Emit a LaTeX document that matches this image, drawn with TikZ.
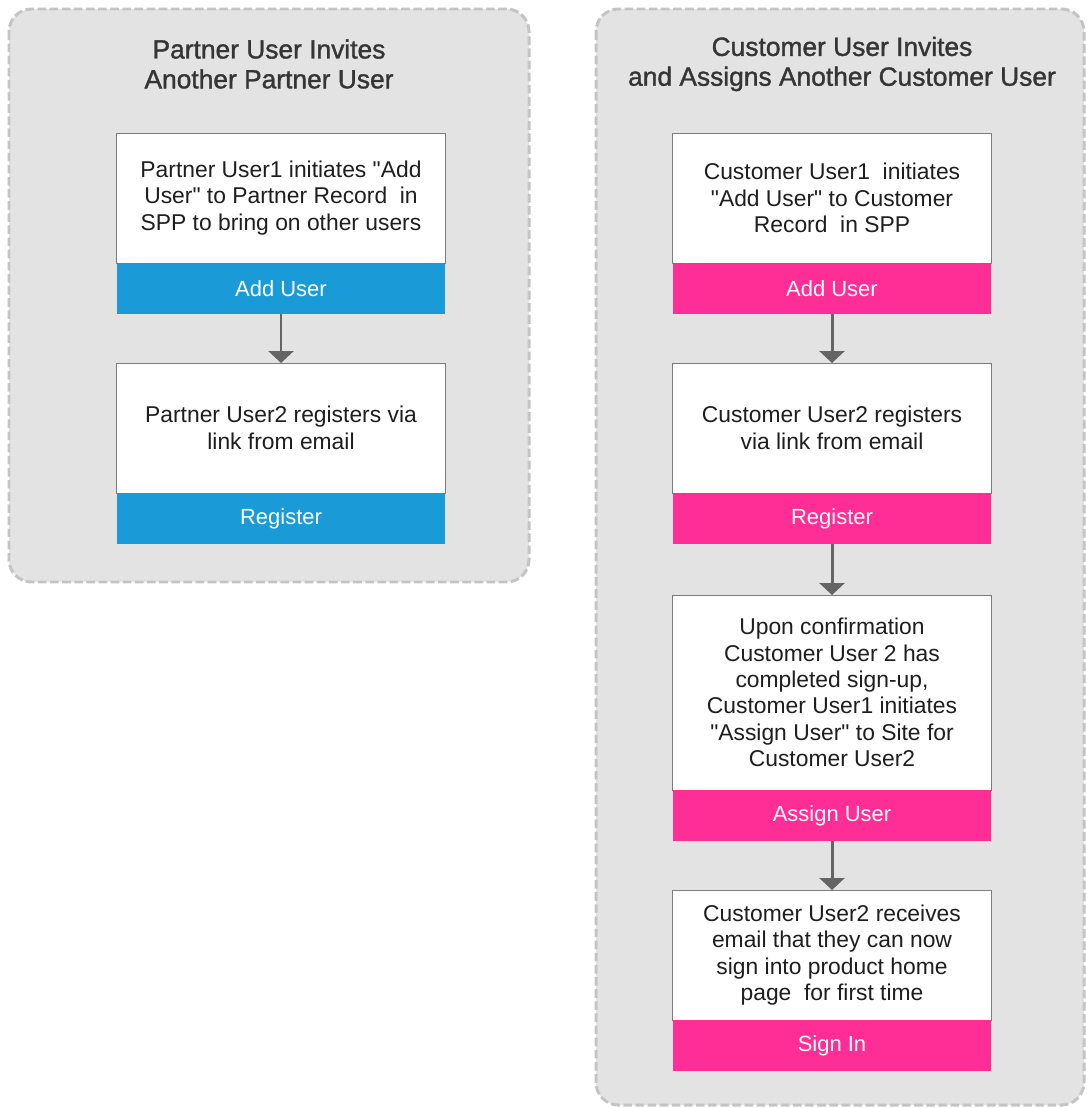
\documentclass[tikz,border=0pt]{standalone}
\usepackage{fontspec}
\newfontfamily\arialfont{Liberation Sans}
\newfontfamily\headfont{Liberation Sans}[FakeBold=1.3]
\usetikzlibrary{arrows.meta,positioning}
\definecolor{partnerblue}{RGB}{26,155,215}
\definecolor{customerpink}{RGB}{255,45,150}
\definecolor{panelgray}{RGB}{227,227,227}
\definecolor{dashgray}{RGB}{196,196,196}
\definecolor{boxline}{RGB}{125,125,125}
\definecolor{arrowgray}{RGB}{100,100,100}
\definecolor{textdark}{RGB}{30,30,30}
\tikzset{
  panel/.style={fill=panelgray, draw=dashgray, line width=1.7pt, dash pattern=on 4.9pt off 2pt, rounded corners=0.45cm},
  paneltitle/.style={align=center, text=textdark!90, font=\headfont\fontsize{15}{17}\selectfont},
  stepbody/.style={draw=boxline, fill=white, align=center, inner sep=0pt, outer sep=0pt, text=textdark, font=\arialfont\fontsize{13}{15}\selectfont},
  stepband/.style={fill=#1, inner sep=0pt, outer sep=0pt, minimum height=1.02cm, text=white, font=\arialfont\fontsize{12.5}{14}\selectfont},
  flow/.style={draw=arrowgray, line width=1.7pt, -{Triangle[width=0.5cm,length=0.24cm]}}
}
\begin{document}
\begin{tikzpicture}[x=0.02cm,y=-0.02cm]
\useasboundingbox (0,0) rectangle (1086,1108);
% panels
\draw [panel] (9,9) rectangle (529,582);
\draw [panel] (596,9) rectangle (1084,1105);
\node [paneltitle] (ptitle) at (269,64) {Partner User Invites\\Another Partner User};
\node [paneltitle] (ctitle) at (842,64) {Customer User Invites\\and Assigns Another Customer User};

% partner flow
\node [stepbody, minimum width=6.58cm, minimum height=2.6cm, anchor=north] (pinvite) at (281,133) {Partner User1 initiates "Add\\User" to Partner Record~~in\\SPP to bring on other users};
\node [stepband=partnerblue, minimum width=6.58cm, below=0pt of pinvite] (padd) {Add User};
\node [stepbody, minimum width=6.58cm, minimum height=2.6cm, anchor=north] (pjoin) at (281,363) {Partner User2 registers via\\link from email};
\node [stepband=partnerblue, minimum width=6.58cm, below=0pt of pjoin] (preg) {Register};
\draw [flow] (padd.south) -- (pjoin.north);

% customer flow
\node [stepbody, minimum width=6.38cm, minimum height=2.6cm, anchor=north] (cinvite) at (832,133) {Customer User1~~initiates\\"Add User" to Customer\\Record~~in SPP};
\node [stepband=customerpink, minimum width=6.38cm, below=0pt of cinvite] (cadd) {Add User};
\node [stepbody, minimum width=6.38cm, minimum height=2.6cm, anchor=north] (cjoin) at (832,363) {Customer User2 registers\\via link from email};
\node [stepband=customerpink, minimum width=6.38cm, below=0pt of cjoin] (creg) {Register};
\node [stepbody, minimum width=6.38cm, minimum height=3.9cm, anchor=north] (cconfirm) at (832,595) {Upon confirmation\\Customer User 2 has\\completed sign-up,\\Customer User1 initiates\\"Assign User" to Site for\\Customer User2};
\node [stepband=customerpink, minimum width=6.38cm, below=0pt of cconfirm] (cassign) {Assign User};
\node [stepbody, minimum width=6.38cm, minimum height=2.6cm, anchor=north] (cnotify) at (832,890) {Customer User2 receives\\email that they can now\\sign into product home\\page~~for first time};
\node [stepband=customerpink, minimum width=6.38cm, below=0pt of cnotify] (csign) {Sign In};
\draw [flow] (cadd.south) -- (cjoin.north);
\draw [flow] (creg.south) -- (cconfirm.north);
\draw [flow] (cassign.south) -- (cnotify.north);
\end{tikzpicture}
\end{document}
